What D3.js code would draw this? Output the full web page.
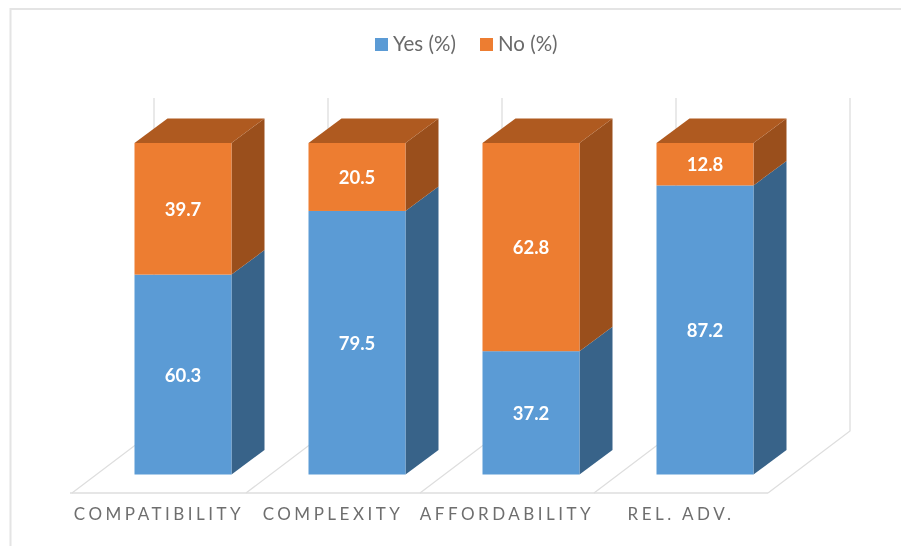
<!DOCTYPE html>
<html>
<head>
<meta charset="utf-8">
<script src="https://cdn.jsdelivr.net/npm/d3@7/dist/d3.min.js"></script>
<style>
html,body{margin:0;padding:0;background:#fff;}
svg{display:block;filter:blur(0.45px);}
text{font-family:Lato,"Open Sans",sans-serif;}
</style>
</head>
<body>
<svg id="chart" width="901" height="546"></svg>
<script>
const categories = ["COMPATIBILITY", "COMPLEXITY", "AFFORDABILITY", "REL. ADV."];
const yesValues = [60.3, 79.5, 37.2, 87.2];
const noValues = [39.7, 20.5, 62.8, 12.8];
const seriesNames = ["Yes (%)", "No (%)"];
const seriesValues = [yesValues, noValues];
const frontColors = ["#5b9bd5", "#ed7d31"];
const sideColors = ["#386389", "#9a4f1c"];
const topColor = "#af5a20";

const W = 901, H = 546;
const floorY = 493, floorLeft = 72, floorRight = 768;
const wall = {dx: 82, dy: -62};
const barFront = {dx: 24, dy: -18.5};
const barDepth = {dx: 33, dy: -24.5};
const barW = 97;
const gridC = "#dedede";

const svg = d3.select("#chart");
const x = d3.scaleBand().domain(categories).range([floorLeft, floorRight]);
const y = d3.scaleLinear().domain([0, 100]).range([floorY + barFront.dy, floorY + barFront.dy - 331.5]);
const line = d3.line();

// chart border
svg.append("path").attr("d", line([[10.5, H], [10.5, 9], [W, 9]]))
  .attr("fill", "none").attr("stroke", "#e4e4e4").attr("stroke-width", 2);

// walls and floor grid
const edges = categories.map(c => x(c)).concat([floorRight]);
const grid = svg.append("g").attr("fill", "none").attr("stroke", gridC).attr("stroke-width", 1.3);
edges.forEach(e => {
  grid.append("path").attr("d", line([
    [e, floorY], [e + wall.dx, floorY + wall.dy], [e + wall.dx, 98]
  ]));
});
grid.append("path").attr("d", line([[floorLeft - 2, floorY], [floorRight, floorY]]));

// bars
const bars = svg.append("g");
categories.forEach((c, i) => {
  const left = x(c) + (x.bandwidth() - barW) / 2 + barFront.dx;
  const right = left + barW;
  let acc = 0;
  seriesValues.forEach((vals, s) => {
    const y0 = y(acc), y1 = y(acc + vals[i]);
    bars.append("path")
      .attr("fill", sideColors[s])
      .attr("d", line([[right, y0], [right + barDepth.dx, y0 + barDepth.dy],
                       [right + barDepth.dx, y1 + barDepth.dy], [right, y1]]) + "Z");
    bars.append("rect")
      .attr("x", left).attr("y", y1).attr("width", barW).attr("height", y0 - y1)
      .attr("fill", frontColors[s]);
    acc += vals[i];
  });
  const t = y(acc);
  bars.append("path")
    .attr("fill", topColor)
    .attr("d", line([[left, t], [left + barDepth.dx, t + barDepth.dy],
                     [right + barDepth.dx, t + barDepth.dy], [right, t]]) + "Z");
  // data labels
  acc = 0;
  seriesValues.forEach(vals => {
    bars.append("text")
      .attr("x", (left + right) / 2)
      .attr("y", (y(acc) + y(acc + vals[i])) / 2 + 7)
      .attr("text-anchor", "middle")
      .attr("fill", "#fff").attr("font-size", 18.5).attr("font-weight", 700)
      .text(vals[i].toFixed(1));
    acc += vals[i];
  });
});

// category axis
const axis = svg.append("g")
  .attr("transform", `translate(0,${floorY})`)
  .call(d3.axisBottom(x).tickSize(0).tickPadding(15));
axis.select(".domain").remove();
axis.selectAll("text")
  .attr("fill", "#6e6e6e")
  .style("font-family", "Lato, sans-serif")
  .style("font-size", "17px")
  .style("letter-spacing", "3.5px");

// legend
const legendX = [375, 480];
const legend = svg.append("g");
seriesNames.forEach((n, i) => {
  legend.append("rect").attr("x", legendX[i]).attr("y", 38)
    .attr("width", 13).attr("height", 13).attr("fill", frontColors[i]);
  legend.append("text").attr("x", legendX[i] + 18).attr("y", 51)
    .attr("fill", "#6a6a6a").attr("font-size", 20.5).text(n);
});
</script>
</body>
</html>
